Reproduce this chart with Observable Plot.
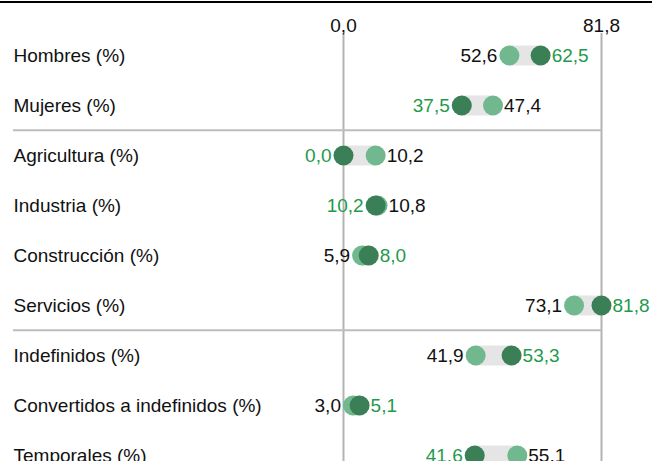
<!DOCTYPE html>
<html><head><meta charset="utf-8">
<script src="https://cdn.jsdelivr.net/npm/d3@7"></script>
<script src="https://cdn.jsdelivr.net/npm/@observablehq/plot@0.6"></script>
<style>
body{margin:0;background:#fff;font-family:"Liberation Sans",Arial,sans-serif;}
#top{border-top:2px solid #000;margin-top:1px;}
</style></head>
<body><div id="top"></div><div id="chart"></div>
<script>
const categories = ["Hombres (%)","Mujeres (%)","Agricultura (%)","Industria (%)","Construcción (%)","Servicios (%)","Indefinidos (%)","Convertidos a indefinidos (%)","Temporales (%)"];
const seriesA = [62.5,37.5,0.0,10.2,8.0,81.8,53.3,5.1,41.6]; // dark, green labels
const seriesB = [52.6,47.4,10.2,10.8,5.9,73.1,41.9,3.0,55.1]; // light, black labels
const axisTicks = [0, 81.8];
const groupEnds = ["Mujeres (%)","Servicios (%)"];

const FS = 19;
const fmt = v => v.toFixed(1).replace(".", ",");
const rows = categories.map((c,i)=>({c,a:seriesA[i],b:seriesB[i],lo:Math.min(seriesA[i],seriesB[i]),hi:Math.max(seriesA[i],seriesB[i])}));
const labels = rows.flatMap(r=>{
  const aIsLow = r.a < r.b;
  return [
    {c:r.c, v: aIsLow? r.lo : r.hi, t: fmt(r.a), side: aIsLow? "L":"R", fill:"#1f9a4b"},
    {c:r.c, v: aIsLow? r.hi : r.lo, t: fmt(r.b), side: aIsLow? "R":"L", fill:"#111"}
  ];
});

const plot = Plot.plot({
  width: 652, height: 480,
  marginLeft: 13, marginRight: 51, marginTop: 52, marginBottom: 28,
  x: {domain: [0, 81.8], range: [343, 601]},
  y: {type: "point", domain: categories, padding: 0, axis: null},
  style: {fontFamily: "'Liberation Sans', Arial, sans-serif", fontSize: FS + "px"},
  marks: [
    Plot.ruleX(axisTicks, {x: d=>d, stroke: "#b3b3b3", strokeWidth: 2, strokeOpacity: 1, insetTop: -22, insetBottom: -40}),
    Plot.ruleY(groupEnds, {y: d=>d, dy: 24.8, stroke: "#bdbdbd", strokeWidth: 2}),
    Plot.axisX(axisTicks, {anchor: "top", tickSize: 0, tickPadding: 24, tickFormat: fmt, fontSize: FS, fill: "#111"}),
    Plot.text(rows, {y: "c", text: "c", frameAnchor: "left", textAnchor: "start", fill: "#111", fontSize: FS}),
    Plot.ruleY(rows, {y: "c", x1: "lo", x2: "hi", stroke: "#e5e5e5", strokeWidth: 20}),
    Plot.dot(rows, {y: "c", x: "b", r: 10, fill: "#72b88f"}),
    Plot.dot(rows, {y: "c", x: "a", r: 10, fill: "#3b7f56"}),
    Plot.text(labels.filter(d=>d.side==="L"), {y: "c", x: "v", text: "t", fill: "fill", textAnchor: "end", dx: -12, fontSize: FS}),
    Plot.text(labels.filter(d=>d.side==="R"), {y: "c", x: "v", text: "t", fill: "fill", textAnchor: "start", dx: 11, fontSize: FS})
  ]
});
document.getElementById("chart").append(plot);
</script></body></html>
